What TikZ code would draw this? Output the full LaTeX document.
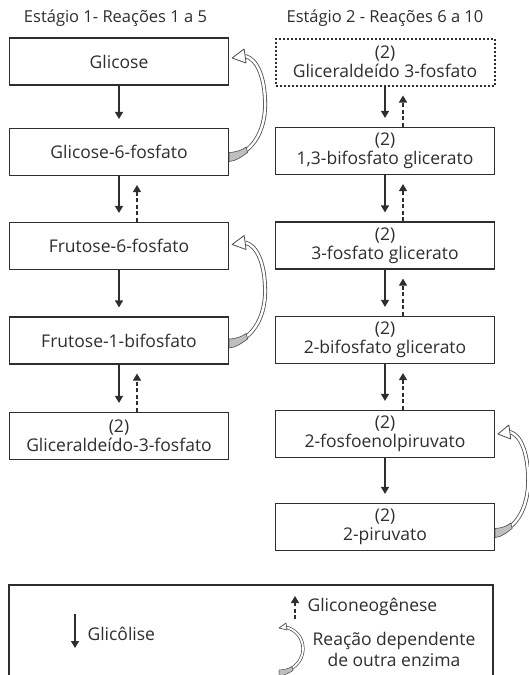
\documentclass[tikz,border=0pt]{standalone}
\usepackage{fontspec}
\setmainfont{Open Sans}
\usetikzlibrary{arrows.meta,calc}
\definecolor{ink}{gray}{0.18}
\definecolor{curvink}{gray}{0.3}
\tikzset{
  enzarrow/.pic={
    \draw[curvink, line width=0.8pt, double=white, double distance=2.4pt]
      (0,0) .. controls (22,-2) and (36,-25) .. (36,-52) .. controls (36,-80) and (28,-98) .. (16,-101);
    \draw[curvink, line width=0.6pt, fill=gray!50]
      (0,-4.5) .. controls (8,-5) and (13,-7) .. (17,-10) -- (18.5,-4.5) .. controls (12,0) and (7,4) .. (0,4.5) -- cycle;
    \draw[curvink, line width=0.8pt, fill=white, line join=round]
      (3,-99) -- (15,-108) -- (17,-94) -- cycle;
  },
  enzsymbol/.pic={
    \draw[curvink, line width=0.7pt, double=white, double distance=1.8pt]
      (0,0) .. controls (14,-2) and (24,-12) .. (24,-24) .. controls (24,-36) and (16,-44) .. (6,-46);
    \draw[curvink, line width=0.5pt, fill=gray!50]
      (0,-3) .. controls (6,-3.3) and (10,-4.5) .. (13,-6.5) -- (14,-2.5) .. controls (9,0.5) and (5,2.5) .. (0,3) -- cycle;
    \draw[curvink, line width=0.7pt, fill=white, line join=round]
      (0,-45) -- (7,-50) -- (8,-43) -- cycle;
  }
}
\begin{document}
\begin{tikzpicture}[x=1pt,y=-1pt,
  every node/.style={text=ink, font=\fontsize{17.5}{19}\selectfont},
  box/.style={draw=ink, line width=1.2pt, minimum width=219pt, minimum height=47pt, inner sep=0pt, align=center},
  dotbox/.style={box, draw=ink, dash pattern=on 2pt off 2pt, line width=2pt},
  down/.style={draw=ink, line width=1.2pt, -{Triangle[width=8pt,length=7pt]}, shorten >=9pt},
  up/.style={draw=ink, line width=1.2pt, dash pattern=on 4pt off 2.5pt, -{Triangle[width=8pt,length=7pt]}, shorten >=9pt},
]
\useasboundingbox (0,0) rectangle (528,675);
\fill[white] (0,0) rectangle (528,675);

% titles
\node[font=\fontsize{16.5}{19}\selectfont] (t1) at (115.5,18) {Estágio 1- Reações 1 a 5};
\node[font=\fontsize{16.5}{19}\selectfont] (t2) at (385,18) {Estágio 2 - Reações 6 a 10};

% left column
\node[box] (g1) at (119,61.5) {Glicose};
\node[box] (g2) at (119,152) {Glicose-6-fosfato};
\node[box] (g3) at (119,246) {Frutose-6-fosfato};
\node[box] (g4) at (119,340.5) {Frutose-1-bifosfato};
\node[box] (g5) at (119,436) {(2)\\Gliceraldeído-3-fosfato};

% right column
\node[dotbox] (r1) at (385,62) {(2)\\Gliceraldeído 3-fosfato};
\node[box] (r2) at (385,151) {(2)\\1,3-bifosfato glicerato};
\node[box] (r3) at (385,245.5) {(2)\\3-fosfato glicerato};
\node[box] (r4) at (385,340) {(2)\\2-bifosfato glicerato};
\node[box] (r5) at (385,434) {(2)\\2-fosfoenolpiruvato};
\node[box] (r6) at (385,527) {(2)\\2-piruvato};

% glycolysis arrows
\draw[down] (g1.south) -- (g2.north);
\draw[down] (g2.south) -- (g3.north);
\draw[down] (g3.south) -- (g4.north);
\draw[down] (g4.south) -- (g5.north);
\draw[down] (r1.south) -- (r2.north);
\draw[down] (r2.south) -- (r3.north);
\draw[down] (r3.south) -- (r4.north);
\draw[down] (r4.south) -- (r5.north);
\draw[down] (r5.south) -- (r6.north);

% gluconeogenesis arrows
\draw[up] ([xshift=18pt]g3.north) -- ([xshift=18pt]g2.south);
\draw[up] ([xshift=18pt]g5.north) -- ([xshift=18pt]g4.south);
\draw[up] ([xshift=18pt]r2.north) -- ([xshift=18pt]r1.south);
\draw[up] ([xshift=18pt]r3.north) -- ([xshift=18pt]r2.south);
\draw[up] ([xshift=18pt]r4.north) -- ([xshift=18pt]r3.south);
\draw[up] ([xshift=18pt]r5.north) -- ([xshift=18pt]r4.south);

% enzyme-dependent reactions
\pic at ($(g2.east)+(0,5)$) {enzarrow};
\pic at ($(g4.east)+(0,3)$) {enzarrow};
\pic[xscale=0.92] at ($(r6.east)+(0,6)$) {enzarrow};

% legend
\node[draw=ink, line width=1.2pt, minimum width=484pt, minimum height=110pt, inner sep=0pt] (leg) at (251,640) {};
\coordinate (ga) at (75,614);
\coordinate (gb) at (75,648);
\draw[down, shorten >=0pt] (ga) -- (gb);
\node[anchor=west] (glic) at (84,634) {Glicôlise};
\coordinate (na) at (295,619);
\coordinate (nb) at (295,596);
\draw[up, shorten >=0pt] (na) -- (nb);
\node[anchor=west] (neo) at (304,607) {Gliconeogênese};
\pic at (279,673) {enzsymbol};
\node[align=center, font=\fontsize{17.5}{21}\selectfont] (dep) at (394,649) {Reação dependente\\de outra enzima};
\end{tikzpicture}
\end{document}
